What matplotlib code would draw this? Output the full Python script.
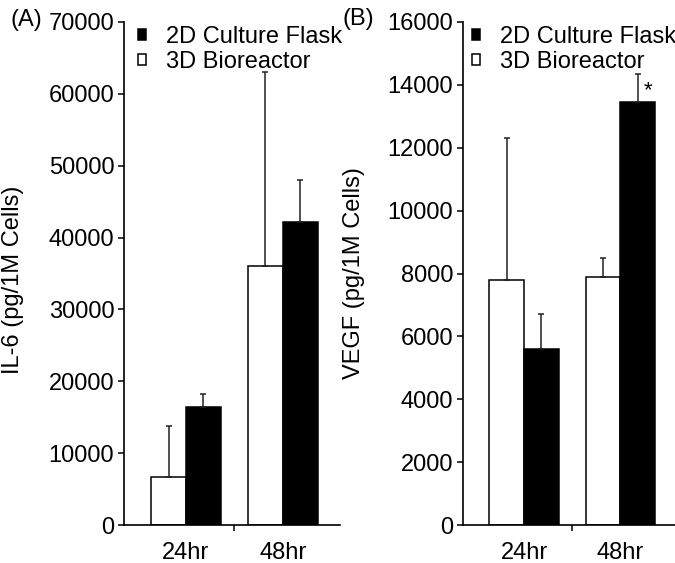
import numpy as np
import matplotlib
matplotlib.use("Agg")
import matplotlib.pyplot as plt

plt.rcParams["font.family"] = ["Liberation Sans", "DejaVu Sans"]

# ---- data (mean, upper SD) ----
times = ["24hr", "48hr"]
il6_3d = [6700, 36000]
il6_3d_err = [7100, 27000]
il6_2d = [16400, 42200]
il6_2d_err = [1800, 5800]
vegf_3d = [7800, 7900]
vegf_3d_err = [4500, 600]
vegf_2d = [5600, 13450]
vegf_2d_err = [1100, 900]
il6_ticks = [0, 10000, 20000, 30000, 40000, 50000, 60000, 70000]
vegf_ticks = [0, 2000, 4000, 6000, 8000, 10000, 12000, 14000, 16000]

FS = 17
W = 0.36
fig = plt.figure(figsize=(6.75, 5.63), dpi=100)
axA = fig.add_axes([124/675, 1-525/563, 216/675, 503/563])
axB = fig.add_axes([463/675, 1-525/563, 212/675, 503/563])


def panel(ax, v3d, e3d, v2d, e2d, ticks, ylabel, xlim, leg_x):
    x = np.arange(len(times))
    ekw = dict(ecolor="#222222", elinewidth=1.1, capsize=2, capthick=1.1)
    b3 = ax.bar(x - W/2, v3d, W, color="white", edgecolor="black", lw=1.1,
                yerr=[np.zeros(len(e3d)), e3d], error_kw=ekw, zorder=2)
    b2 = ax.bar(x + W/2, v2d, W, color="black", edgecolor="black", lw=1.1,
                yerr=[np.zeros(len(e2d)), e2d], error_kw=ekw, zorder=2)
    ax.set_xlim(*xlim)
    ax.set_ylim(ticks[0], ticks[-1])
    ax.set_yticks(ticks)
    ax.set_xticks(x)
    ax.set_xticklabels(times)
    ax.set_xticks([0.5], minor=True)
    ax.tick_params(axis="x", which="major", length=0, pad=12, labelsize=FS)
    ax.tick_params(axis="x", which="minor", length=4, width=1.1)
    ax.tick_params(axis="y", length=4, width=1.1, labelsize=FS, pad=3)
    for s in ("top", "right"):
        ax.spines[s].set_visible(False)
    for s in ("left", "bottom"):
        ax.spines[s].set_linewidth(1.2)
    ax.set_ylabel(ylabel, fontsize=FS)
    ax.legend([b2, b3], ["2D Culture Flask", "3D Bioreactor"], frameon=False,
              fontsize=FS, loc="upper left", handlelength=0.32,
              handleheight=0.32, handletextpad=0.85, labelspacing=0.12,
              borderpad=0, borderaxespad=0,
              bbox_to_anchor=(leg_x/675, 1-26/563),
              bbox_transform=fig.transFigure)


panel(axA, il6_3d, il6_3d_err, il6_2d, il6_2d_err, il6_ticks,
      "IL-6 (pg/1M Cells)", (-0.64, 1.59), 138)
panel(axB, vegf_3d, vegf_3d_err, vegf_2d, vegf_2d_err, vegf_ticks,
      "VEGF (pg/1M Cells)", (-0.635, 1.57), 472)

axA.yaxis.set_label_coords(-0.463, 0.487)
axB.yaxis.set_label_coords(-0.462, 0.50)

# significance marker on 48hr 2D VEGF
axB.text(1 + W/2 + 0.11, vegf_2d[1] + 200, "*", fontsize=16, ha="center",
         va="baseline")

fig.text(10/675, 1-20/563, "(A)", fontsize=FS, va="center", ha="left")
fig.text(342/675, 1-19/563, "(B)", fontsize=FS, va="center", ha="left")

fig.savefig("out.png", dpi=100)
